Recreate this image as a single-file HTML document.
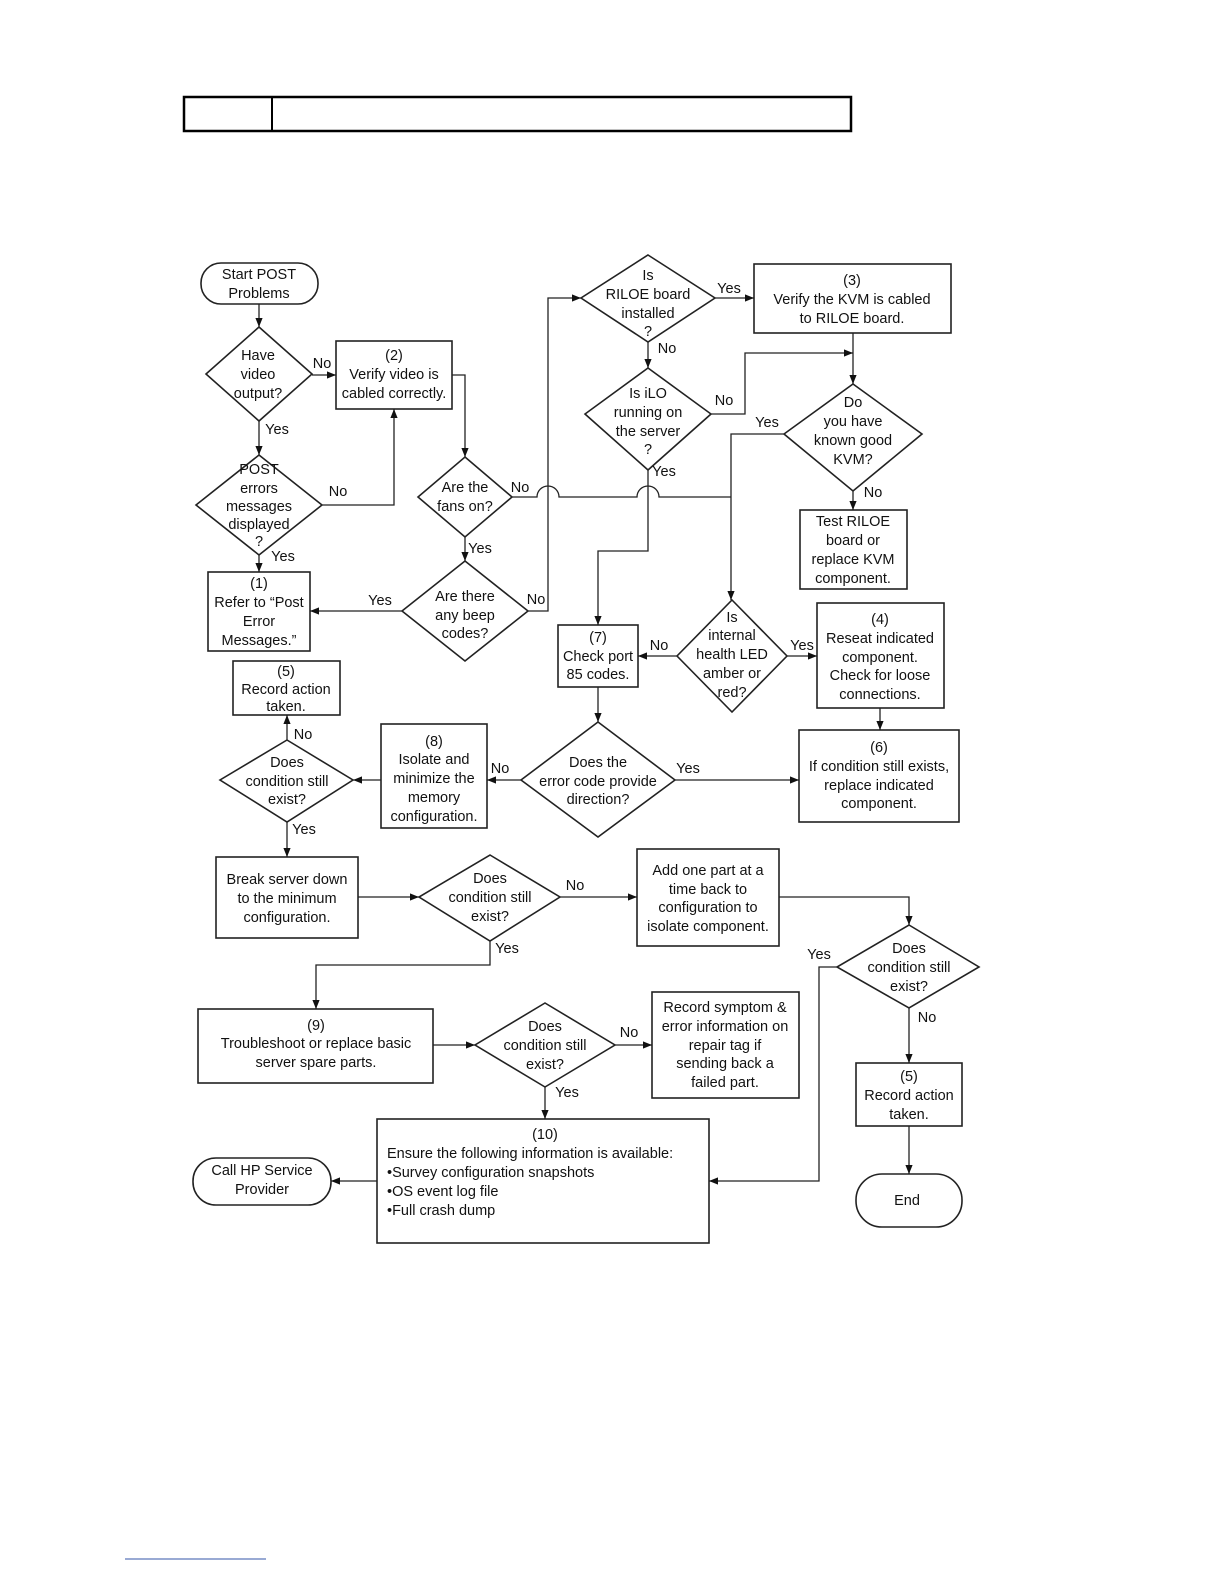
<!DOCTYPE html>
<html><head><meta charset="utf-8"><style>
html,body{margin:0;padding:0;background:#fff;}
svg{display:block;}
text{font-family:"Liberation Sans",sans-serif;font-size:14.5px;fill:#111;text-anchor:middle;}
.l{text-anchor:start;}
.s{fill:none;stroke:#222;stroke-width:1.6;}
.c{fill:none;stroke:#222;stroke-width:1.3;}
</style></head><body>
<svg width="1224" height="1584" viewBox="0 0 1224 1584" xmlns="http://www.w3.org/2000/svg">
<defs><marker id="a" viewBox="0 0 10 10" refX="10" refY="5" markerWidth="9" markerHeight="9" markerUnits="userSpaceOnUse" orient="auto"><path d="M0,1 L10,5 L0,9 z" fill="#111"/></marker></defs>
<!-- header -->
<rect x="184" y="97" width="667" height="34" fill="none" stroke="#000" stroke-width="2.5"/>
<line x1="272" y1="97" x2="272" y2="131" stroke="#000" stroke-width="2"/>
<line x1="125" y1="1559" x2="266" y2="1559" stroke="#3355aa" stroke-width="1"/>

<!-- shapes -->
<rect class="s" x="201" y="263" width="117" height="41" rx="20"/>
<text x="259" y="279">Start POST</text><text x="259" y="298">Problems</text>

<polygon class="s" points="259,327 312,374 259,421 206,374"/>
<text x="258" y="360">Have</text><text x="258" y="379">video</text><text x="258" y="398">output?</text>

<rect class="s" x="336" y="341" width="116" height="68"/>
<text x="394" y="360">(2)</text><text x="394" y="379">Verify video is</text><text x="394" y="398">cabled correctly.</text>

<polygon class="s" points="259,455 322,505 259,555 196,505"/>
<text x="259" y="474">POST</text><text x="259" y="493">errors</text><text x="259" y="511">messages</text><text x="259" y="529">displayed</text><text x="259" y="546">?</text>

<rect class="s" x="208" y="572" width="102" height="79"/>
<text x="259" y="588">(1)</text><text x="259" y="607">Refer to “Post</text><text x="259" y="626">Error</text><text x="259" y="645">Messages.”</text>

<polygon class="s" points="465,457 512,497 465,537 418,497"/>
<text x="465" y="492">Are the</text><text x="465" y="511">fans on?</text>

<polygon class="s" points="465,561 528,611 465,661 402,611"/>
<text x="465" y="601">Are there</text><text x="465" y="620">any beep</text><text x="465" y="638">codes?</text>

<polygon class="s" points="648,255 715,298 648,342 581,298"/>
<text x="648" y="280">Is</text><text x="648" y="299">RILOE board</text><text x="648" y="318">installed</text><text x="648" y="336">?</text>

<rect class="s" x="754" y="264" width="197" height="69"/>
<text x="852" y="285">(3)</text><text x="852" y="304">Verify the KVM is cabled</text><text x="852" y="323">to RILOE board.</text>

<polygon class="s" points="648,368 711,414 648,470 585,414"/>
<text x="648" y="398">Is iLO</text><text x="648" y="417">running on</text><text x="648" y="436">the server</text><text x="648" y="454">?</text>

<polygon class="s" points="853,384 922,434 853,491 784,434"/>
<text x="853" y="407">Do</text><text x="853" y="426">you have</text><text x="853" y="445">known good</text><text x="853" y="464">KVM?</text>

<rect class="s" x="800" y="510" width="107" height="79"/>
<text x="853" y="526">Test RILOE</text><text x="853" y="545">board or</text><text x="853" y="564">replace KVM</text><text x="853" y="583">component.</text>

<rect class="s" x="558" y="625" width="80" height="62"/>
<text x="598" y="642">(7)</text><text x="598" y="661">Check port</text><text x="598" y="679">85 codes.</text>

<polygon class="s" points="732,600 787,656 732,712 677,656"/>
<text x="732" y="622">Is</text><text x="732" y="640">internal</text><text x="732" y="659">health LED</text><text x="732" y="678">amber or</text><text x="732" y="697">red?</text>

<rect class="s" x="817" y="603" width="127" height="105"/>
<text x="880" y="624">(4)</text><text x="880" y="643">Reseat indicated</text><text x="880" y="662">component.</text><text x="880" y="680">Check for loose</text><text x="880" y="699">connections.</text>

<rect class="s" x="799" y="730" width="160" height="92"/>
<text x="879" y="752">(6)</text><text x="879" y="771">If condition still exists,</text><text x="879" y="790">replace indicated</text><text x="879" y="808">component.</text>

<polygon class="s" points="598,722 675,780 598,837 521,780"/>
<text x="598" y="767">Does the</text><text x="598" y="786">error code provide</text><text x="598" y="804">direction?</text>

<rect class="s" x="381" y="724" width="106" height="104"/>
<text x="434" y="746">(8)</text><text x="434" y="764">Isolate and</text><text x="434" y="783">minimize the</text><text x="434" y="802">memory</text><text x="434" y="821">configuration.</text>

<rect class="s" x="233" y="661" width="107" height="54"/>
<text x="286" y="676">(5)</text><text x="286" y="694">Record action</text><text x="286" y="711">taken.</text>

<polygon class="s" points="287,740 353,780 287,822 220,780"/>
<text x="287" y="767">Does</text><text x="287" y="786">condition still</text><text x="287" y="804">exist?</text>

<rect class="s" x="216" y="857" width="142" height="81"/>
<text x="287" y="884">Break server down</text><text x="287" y="903">to the minimum</text><text x="287" y="922">configuration.</text>

<polygon class="s" points="490,855 560,897 490,941 419,897"/>
<text x="490" y="883">Does</text><text x="490" y="902">condition still</text><text x="490" y="921">exist?</text>

<rect class="s" x="637" y="849" width="142" height="97"/>
<text x="708" y="875">Add one part at a</text><text x="708" y="894">time back to</text><text x="708" y="912">configuration to</text><text x="708" y="931">isolate component.</text>

<polygon class="s" points="909,925 979,967 909,1008 837,967"/>
<text x="909" y="953">Does</text><text x="909" y="972">condition still</text><text x="909" y="991">exist?</text>

<rect class="s" x="198" y="1009" width="235" height="74"/>
<text x="316" y="1030">(9)</text><text x="316" y="1048">Troubleshoot or replace basic</text><text x="316" y="1067">server spare parts.</text>

<polygon class="s" points="545,1003 615,1045 545,1087 475,1045"/>
<text x="545" y="1031">Does</text><text x="545" y="1050">condition still</text><text x="545" y="1069">exist?</text>

<rect class="s" x="652" y="992" width="147" height="106"/>
<text x="725" y="1012">Record symptom &amp;</text><text x="725" y="1031">error information on</text><text x="725" y="1050">repair tag if</text><text x="725" y="1068">sending back a</text><text x="725" y="1087">failed part.</text>

<rect class="s" x="856" y="1063" width="106" height="63"/>
<text x="909" y="1081">(5)</text><text x="909" y="1100">Record action</text><text x="909" y="1119">taken.</text>

<rect class="s" x="377" y="1119" width="332" height="124"/>
<text x="545" y="1139">(10)</text>
<text class="l" x="387" y="1158">Ensure the following information is available:</text>
<text class="l" x="387" y="1177">•Survey configuration snapshots</text>
<text class="l" x="387" y="1196">•OS event log file</text>
<text class="l" x="387" y="1215">•Full crash dump</text>

<rect class="s" x="193" y="1158" width="138" height="47" rx="23"/>
<text x="262" y="1175">Call HP Service</text><text x="262" y="1194">Provider</text>

<rect class="s" x="856" y="1174" width="106" height="53" rx="26"/>
<text x="907" y="1205">End</text>

<!-- connectors -->
<g class="c">
<line x1="259" y1="304" x2="259" y2="327" marker-end="url(#a)"/>
<line x1="312" y1="375" x2="336" y2="375" marker-end="url(#a)"/>
<line x1="259" y1="421" x2="259" y2="455" marker-end="url(#a)"/>
<polyline points="322,505 394,505 394,409" marker-end="url(#a)"/>
<line x1="259" y1="555" x2="259" y2="572" marker-end="url(#a)"/>
<polyline points="452,375 465,375 465,457" marker-end="url(#a)"/>
<path d="M512,497 H537 A11,11 0 0 1 559,497 H637 A11,11 0 0 1 659,497 H731"/>
<line x1="465" y1="537" x2="465" y2="561" marker-end="url(#a)"/>
<line x1="402" y1="611" x2="310" y2="611" marker-end="url(#a)"/>
<polyline points="528,611 548,611 548,298 581,298" marker-end="url(#a)"/>
<line x1="715" y1="298" x2="754" y2="298" marker-end="url(#a)"/>
<line x1="648" y1="342" x2="648" y2="368" marker-end="url(#a)"/>
<line x1="853" y1="333" x2="853" y2="384" marker-end="url(#a)"/>
<polyline points="711,414 745,414 745,353 853,353" marker-end="url(#a)"/>
<polyline points="648,470 648,551 598,551 598,625" marker-end="url(#a)"/>
<polyline points="784,434 731,434 731,600" marker-end="url(#a)"/>
<line x1="853" y1="491" x2="853" y2="510" marker-end="url(#a)"/>
<line x1="677" y1="656" x2="638" y2="656" marker-end="url(#a)"/>
<line x1="787" y1="656" x2="817" y2="656" marker-end="url(#a)"/>
<line x1="880" y1="708" x2="880" y2="730" marker-end="url(#a)"/>
<line x1="598" y1="687" x2="598" y2="722" marker-end="url(#a)"/>
<line x1="675" y1="780" x2="799" y2="780" marker-end="url(#a)"/>
<line x1="521" y1="780" x2="487" y2="780" marker-end="url(#a)"/>
<line x1="381" y1="780" x2="353" y2="780" marker-end="url(#a)"/>
<line x1="287" y1="740" x2="287" y2="715" marker-end="url(#a)"/>
<line x1="287" y1="822" x2="287" y2="857" marker-end="url(#a)"/>
<line x1="358" y1="897" x2="419" y2="897" marker-end="url(#a)"/>
<line x1="560" y1="897" x2="637" y2="897" marker-end="url(#a)"/>
<polyline points="490,941 490,965 316,965 316,1009" marker-end="url(#a)"/>
<polyline points="779,897 909,897 909,925" marker-end="url(#a)"/>
<polyline points="837,967 819,967 819,1181 709,1181" marker-end="url(#a)"/>
<line x1="909" y1="1008" x2="909" y2="1063" marker-end="url(#a)"/>
<line x1="433" y1="1045" x2="475" y2="1045" marker-end="url(#a)"/>
<line x1="615" y1="1045" x2="652" y2="1045" marker-end="url(#a)"/>
<line x1="545" y1="1087" x2="545" y2="1119" marker-end="url(#a)"/>
<line x1="377" y1="1181" x2="331" y2="1181" marker-end="url(#a)"/>
<line x1="909" y1="1126" x2="909" y2="1174" marker-end="url(#a)"/>
</g>

<!-- connector labels -->
<g>
<text x="322" y="368">No</text>
<text x="277" y="434">Yes</text>
<text x="338" y="496">No</text>
<text x="283" y="561">Yes</text>
<text x="520" y="492">No</text>
<text x="480" y="553">Yes</text>
<text x="380" y="605">Yes</text>
<text x="536" y="604">No</text>
<text x="729" y="293">Yes</text>
<text x="667" y="353">No</text>
<text x="724" y="405">No</text>
<text x="664" y="476">Yes</text>
<text x="767" y="427">Yes</text>
<text x="873" y="497">No</text>
<text x="659" y="650">No</text>
<text x="802" y="650">Yes</text>
<text x="688" y="773">Yes</text>
<text x="500" y="773">No</text>
<text x="303" y="739">No</text>
<text x="304" y="834">Yes</text>
<text x="575" y="890">No</text>
<text x="507" y="953">Yes</text>
<text x="819" y="959">Yes</text>
<text x="927" y="1022">No</text>
<text x="629" y="1037">No</text>
<text x="567" y="1097">Yes</text>
</g>
</svg>
</body></html>
